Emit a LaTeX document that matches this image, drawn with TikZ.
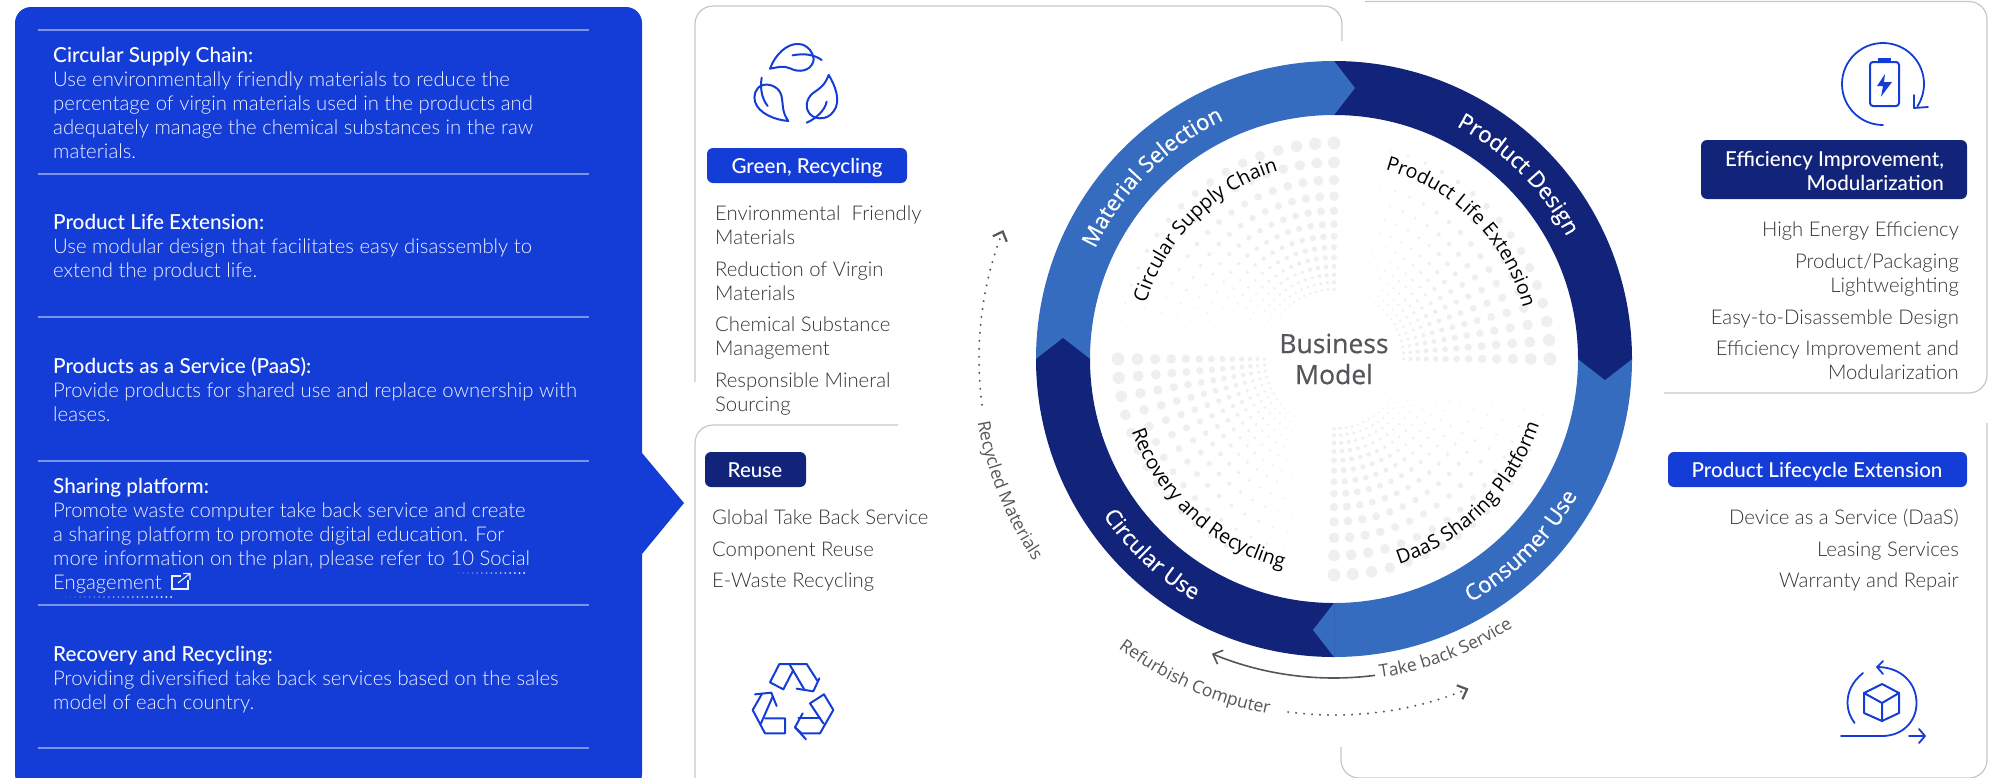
\documentclass[tikz,border=0pt]{standalone}
\usepackage{fontspec}
\usepackage{tikz}
\usetikzlibrary{decorations.text,arrows.meta}
\setmainfont{Lato Light}
\newfontfamily\headfont{Lato Medium}
\newfontfamily\wheelfont{Open Sans}
\newfontfamily\hubfont[FakeBold=0.5]{Open Sans}
\newcommand\bodyfont{\fontsize{20.3}{24}\selectfont}
\newcommand\titlefont{\headfont\fontsize{20.7}{24}\selectfont}
\newcommand\tagfont{\headfont\fontsize{20.6}{24}\selectfont}
\newcommand\ringlabel{\hubfont\fontsize{22.3}{28}\selectfont}
\newcommand\spokelabel{\wheelfont\fontsize{19.6}{24}\selectfont}
\newcommand\flowlabel{\wheelfont\fontsize{17.5}{22}\selectfont}
\definecolor{panelblue}{HTML}{143CD6}
\definecolor{navyblue}{HTML}{12237A}
\definecolor{ringblue}{HTML}{356CBF}
\definecolor{paneltext}{HTML}{F0F3FF}
\definecolor{listgrey}{HTML}{333333}
\definecolor{cardgrey}{HTML}{C6C6C6}
\definecolor{dotgrey}{HTML}{EFEFEF}
\definecolor{flowgrey}{HTML}{555659}

\begin{document}
\begin{tikzpicture}
	 [x=1pt,y=-1pt,
	 head/.style={anchor=base west,inner sep=0pt,text=white,font=\titlefont},
	 body/.style={anchor=base west,inner sep=0pt,text=paneltext,font=\bodyfont},
	 itemleft/.style={anchor=base west,inner sep=0pt,text=listgrey,font=\bodyfont},
	 itemright/.style={anchor=base east,inner sep=0pt,text=listgrey,font=\bodyfont},
	 tagblue/.style={fill=panelblue,rounded corners=6pt},
	 tagnavy/.style={fill=navyblue,rounded corners=6pt},
	 tagtext/.style={anchor=base,inner sep=0pt,text=white,font=\tagfont},
	 card/.style={draw=cardgrey,line width=1.2pt,rounded corners=18pt},
	 icon/.style={draw=panelblue,line width=2pt,line join=round,line cap=round},
	 dotarc/.style={draw=flowgrey,line width=2.2pt,line cap=round,dash pattern=on 0pt off 8pt},
	 ringtext/.style={decorate,decoration={text along path,text align=center,text color=white,text={|\ringlabel|#1}}},
	 spoketext/.style={decorate,decoration={text along path,text align=center,text color=black,text={|\spokelabel|#1}}},
	 flowtext/.style={decorate,decoration={text along path,text align=center,text color=flowgrey,text={|\flowlabel|#1}}}]

  \useasboundingbox (0,0) rectangle (1995,777);

  % blue panel
  \fill[panelblue,rounded corners=16pt] (15,790) -- (15,7) -- (642,7) -- (642,400) [sharp corners] -- (642,453) -- (684,503) -- (642,554) [rounded corners=16pt] -- (642,790) -- cycle;
  \foreach \y in {30,174,317,461,605,748}
    \draw[line width=1.2pt,draw=white,draw opacity=.45] (37.5,\y) -- (589,\y);

  \foreach \y/\t [count=\i] in {62/Circular Supply Chain:,229.5/Product Life Extension:,373.5/Products as a Service (PaaS):,493/Sharing platform:,661.5/Recovery and Recycling:}
    \node[head] (title\i) at (53,\y) {\t};
  \foreach \y/\t [count=\i] in {86/Use environmentally friendly materials to reduce the,
    110/percentage of virgin materials used in the products and,
    134/adequately manage the chemical substances in the raw,
    158/materials.,
    253.5/Use modular design that facilitates easy disassembly to,
    277.5/extend the product life.,
    397.5/Provide products for shared use and replace ownership with,
    421.5/leases.,
    517/Promote waste computer take back service and create,
    541/a sharing platform to promote digital education. For,
    565/more information on the plan{,} please refer to 10 Social,
    589/Engagement,
    685.5/Providing diversified take back services based on the sales,
    709.5/model of each country.}
    \node[body] (text\i) at (53,\y) {\t};

  % link mark and the dots under it
  \draw[paneltext,line width=1.1pt] (181,576) -- (172,576) -- (172,589) -- (188,589) -- (188,580);
  \draw[paneltext,line width=1.1pt] (178,583) -- (190,573.5) (183,573.5) -- (190,573.5) -- (190,580);
  \foreach \i in {0,...,16}
    \fill[white,opacity=\i/16] (449+4.7*\i,573) circle (1pt);
  \foreach \i in {0,...,24}
    \fill[white,opacity=\i/24] (56+4.8*\i,597) circle (1pt);

  % cards
  \draw[card] (695,382) -- (695,6) -- (1342,6) -- (1342,41);
  \draw[card] (898,425) -- (695,425) -- (695,790);
  \draw[card] (1365,1.5) -- (1987,1.5) -- (1987,393) -- (1664,393);
  \draw[card] (1987,423) -- (1987,778) -- (1341,778) -- (1341,747);

  % tags
  \fill[tagblue] (707,148) rectangle (907,183);
  \fill[tagnavy] (705,452) rectangle (806,487);
  \fill[tagnavy] (1701,140) rectangle (1967,199);
  \fill[tagblue] (1668,452) rectangle (1967,487);
  \node[tagtext] (green) at (807,173) {Green, Recycling};
  \node[tagtext] (reuse) at (755,477) {Reuse};
  \node[tagtext,anchor=base east] (effA) at (1944,166) {Efficiency Improvement,};
  \node[tagtext,anchor=base east] (effB) at (1944,190) {Modularization};
  \node[tagtext] (life) at (1817,477) {Product Lifecycle Extension};

  \foreach \y/\t [count=\i] in {220/Environmental\ \ Friendly,244/Materials,276/Reduction of Virgin,300/Materials,331/Chemical Substance,355/Management,387/Responsible Mineral,411/Sourcing}
    \node[itemleft] (greenitem\i) at (715,\y) {\t};
  \foreach \y/\t [count=\i] in {524/Global Take Back Service,556/Component Reuse,587/E-Waste Recycling}
    \node[itemleft] (reuseitem\i) at (712,\y) {\t};
  \foreach \y/\t [count=\i] in {236/High Energy Efficiency,268/{Product/Packaging},292/Lightweighting,324/Easy-to-Disassemble Design,355/Efficiency Improvement and,379/Modularization}
    \node[itemright] (effitem\i) at (1959,\y) {\t};
  \foreach \y/\t [count=\i] in {524/Device as a Service (DaaS),556/Leasing Services,587/Warranty and Repair}
    \node[itemright] (lifeitem\i) at (1959,\y) {\t};

  % wheel
  \begin{scope}[shift={(1334,359)}]
    \foreach \sect in {0,90,180,270}
      \foreach \ray in {0,...,17}
        \foreach \rw in {0,...,12} {
          \pgfmathsetmacro\rad{216*0.91^\rw}
          \pgfmathsetmacro\dia{6.5*(\rad/216)^1.1*(1-\ray/18)}
          \fill[dotgrey] ({\sect+5*\ray}:\rad pt) circle (\dia pt);
        }

    \fill[ringblue] (90:298pt) arc[start angle=90,end angle=180,radius=298pt] -- (180:244pt) arc[start angle=180,end angle=90,radius=244pt] -- cycle;
    \fill[navyblue] (0:298pt) arc[start angle=0,end angle=90,radius=298pt] -- (90:244pt) arc[start angle=90,end angle=0,radius=244pt] -- cycle;
    \fill[ringblue] (270:298pt) arc[start angle=270,end angle=360,radius=298pt] -- (0:244pt) arc[start angle=360,end angle=270,radius=244pt] -- cycle;
    \fill[navyblue] (180:298pt) arc[start angle=180,end angle=270,radius=298pt] -- (270:244pt) arc[start angle=270,end angle=180,radius=244pt] -- cycle;

    \fill[ringblue] (0pt,298pt) -- (21pt,271pt) -- (0pt,244pt) -- cycle;
    \fill[navyblue] (298pt,0pt) -- (271pt,-21pt) -- (244pt,0pt) -- cycle;
    \fill[ringblue] (0pt,-298pt) -- (-21pt,-271pt) -- (0pt,-244pt) -- cycle;
    \fill[navyblue] (-298pt,0pt) -- (-271pt,21pt) -- (-244pt,0pt) -- cycle;

    \path[ringtext={Material Selection}] (180:263pt) arc[start angle=180,end angle=90,radius=263pt];
    \path[ringtext={Product Design}] (90:263pt) arc[start angle=90,end angle=0,radius=263pt];
    \path[ringtext={Consumer Use}] (270:279pt) arc[start angle=270,end angle=360,radius=279pt];
    \path[ringtext={Circular Use}] (180:279pt) arc[start angle=180,end angle=274,radius=279pt];

    \path[spoketext={Circular Supply Chain}] (180:196pt) arc[start angle=180,end angle=90,radius=196pt];
    \path[spoketext={Product Life Extension}] (90:196pt) arc[start angle=90,end angle=0,radius=196pt];
    \path[spoketext={DaaS Sharing Platform}] (270:215pt) arc[start angle=270,end angle=360,radius=215pt];
    \path[spoketext={Recovery and Recycling}] (180:215pt) arc[start angle=180,end angle=276,radius=215pt];

    \node[inner sep=0pt,align=center,text=flowgrey,font=\hubfont\fontsize{26.5}{31}\selectfont] (hub) at (0pt,0pt) {Business\\Model};

    \coordinate (recA) at (187.4:355pt);
    \coordinate (refA) at (262.6:356pt);
    \coordinate (takeA) at (277.4:319pt);
    \draw[dotarc,-{Straight Barb[length=8pt,width=15pt]}] (recA) arc[start angle=187.4,end angle=158.7,radius=355pt];
    \draw[dotarc,-{Straight Barb[length=8pt,width=15pt]}] (refA) arc[start angle=262.6,end angle=292.2,radius=356pt];
    \draw[draw=flowgrey,line width=1.6pt,-{Straight Barb[length=8pt,width=15pt]}] (takeA) arc[start angle=277.4,end angle=247.5,radius=319pt];

    \path[flowtext={Recycled Materials}] (172:362pt) arc[start angle=172,end angle=232,radius=362pt];
    \path[flowtext={Refurbish Computer}] (216:361pt) arc[start angle=216,end angle=277,radius=361pt];
    \path[flowtext={Take back Service}] (261:322pt) arc[start angle=261,end angle=321,radius=322pt];
  \end{scope}

  % leaves
  \begin{scope}[shift={(720,30)},x=.3333pt,y=-.3333pt]
    \draw[icon] (150,116) .. controls (165,75) and (200,40) .. (235,42) .. controls (265,42) and (285,75) .. (280,95) .. controls (270,125) and (235,128) .. (210,115) .. controls (190,105) and (170,113) .. (150,116);
    \draw[icon] (218,76) .. controls (250,70) and (280,72) .. (305,90);
    \draw[icon] (205,273) .. controls (185,245) and (190,225) .. (185,200) .. controls (180,172) and (150,160) .. (130,165) .. controls (105,170) and (100,200) .. (105,215) .. controls (115,250) and (165,270) .. (205,273);
    \draw[icon] (125,143) .. controls (120,175) and (125,205) .. (143,228);
    \draw[icon] (326,135) .. controls (315,165) and (300,175) .. (285,185) .. controls (260,200) and (255,230) .. (265,245) .. controls (275,268) and (320,275) .. (340,245) .. controls (365,215) and (345,165) .. (326,135);
    \draw[icon] (320,215) .. controls (315,240) and (290,265) .. (260,278);
  \end{scope}

  % recycling mark
  \begin{scope}[shift={(730,650)},x=.3333pt,y=-.3333pt]
    \draw[icon] (190,60) -- (160,118) -- (120,97) -- (148,42) -- (230,42) -- (262,92);
    \draw[icon] (178,42) -- (222,117);
    \draw[icon] (268,85) -- (250,124) -- (200,116);
    \draw[icon] (75,133) -- (124,128) -- (140,168);
    \draw[icon] (95,133) -- (68,180) -- (105,250) -- (165,250) -- (165,205) -- (105,205);
    \draw[icon] (128,140) -- (92,222);
    \draw[icon] (218,190) -- (195,232) -- (228,268);
    \draw[icon] (195,232) -- (215,250) -- (270,250) -- (310,180) -- (282,133) -- (240,160) -- (280,220);
    \draw[icon] (205,205) -- (270,205);
  \end{scope}

  % battery mark
  \begin{scope}[shift={(1883,84)}]
    \draw[icon,line width=1.8pt] (270:41pt) arc[start angle=270,end angle=-33,radius=41pt];
  \end{scope}
  \draw[icon,line width=1.8pt] (1914,95) -- (1914,108) -- (1928,107);
  \draw[icon,rounded corners=3pt] (1870,62) rectangle (1899,106);
  \fill[panelblue] (1878,58) rectangle (1891,62);
  \fill[panelblue] (1885,74) -- (1877,86) -- (1883,86) -- (1881,96.7) -- (1892,82) -- (1884,82) -- cycle;

  % box mark
  \draw[icon] (1882,684) -- (1899,693) -- (1899,713) -- (1882,721) -- (1864,713) -- (1864,693) -- cycle;
  \draw[icon] (1864,693) -- (1882,703) -- (1899,693) (1882,703) -- (1882,721);
  \draw[icon,line width=1.8pt] (1877,667) .. controls (1901,667) and (1916.5,683) .. (1916.5,703) .. controls (1916.5,722) and (1902,736) .. (1882,736) -- (1841,736);
  \draw[icon,line width=1.8pt] (1883,661) -- (1877,667) -- (1883,674);
  \draw[icon,line width=1.8pt] (1863,673) .. controls (1852,682) and (1847.5,692) .. (1847.5,703) .. controls (1847.5,710) and (1850,717) .. (1854.6,723);
  \draw[icon,line width=1.8pt] (1909,736) -- (1925,736) (1919,729) -- (1925,736) -- (1919,743);

\end{tikzpicture}
\end{document}
